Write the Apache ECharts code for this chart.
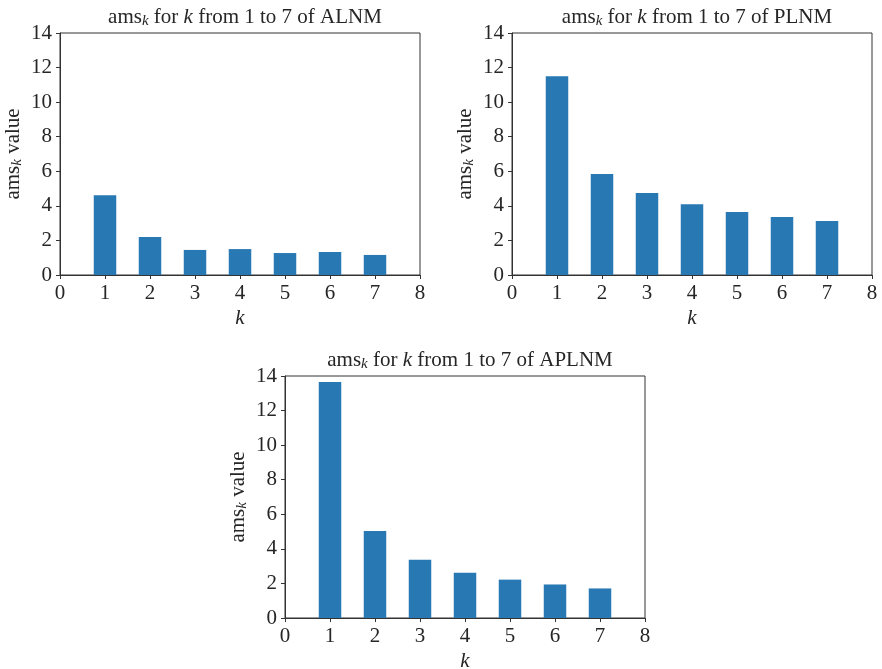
<!DOCTYPE html>
<html>
<head>
<meta charset="utf-8">
<script src="https://cdn.jsdelivr.net/npm/echarts@6/dist/echarts.min.js"></script>
<style>
  html, body { margin: 0; padding: 0; background: #fff; }
  #main { width: 882px; height: 669px; }
</style>
</head>
<body>
<div id="main"></div>
<script>
// k values and ams_k per model
const ks = [1, 2, 3, 4, 5, 6, 7];
const alnm = [4.62, 2.2, 1.45, 1.5, 1.27, 1.33, 1.16];
const plnm = [11.5, 5.84, 4.74, 4.1, 3.64, 3.35, 3.12];
const aplnm = [13.65, 5.04, 3.37, 2.62, 2.22, 1.94, 1.71];
const names = ['ALNM', 'PLNM', 'APLNM'];
const seriesData = [alnm, plnm, aplnm];

const font = '"Liberation Serif", "DejaVu Serif", serif';
const textColor = '#262626';
const barColor = '#2878b4';

// plot areas in px
const grids = [
    {left: 60, top: 33, width: 360, height: 242},
    {left: 512, top: 33, width: 360, height: 242},
    {left: 285, top: 376, width: 360, height: 242}
];

function makeRich(size) {
    return {
        r: {fontFamily: font, fontSize: size, fontWeight: 'normal', color: textColor},
        i: {fontFamily: font, fontSize: size, fontWeight: 'normal', fontStyle: 'italic', color: textColor},
        s: {fontFamily: font, fontSize: Math.round(size * 0.7), fontWeight: 'normal', fontStyle: 'italic', color: textColor,
            verticalAlign: 'bottom', padding: [Math.round(size * 0.45), 0, 0, 0]}
    };
}

let chart = echarts.init(document.getElementById('main'));

chart.setOption({
    animation: false,
    title: grids.map((g, i) => ({
        text: '{r|ams}{s|k}{r| for }{i|k}{r| from 1 to 7 of ' + names[i] + '}',
        left: g.left + g.width / 2,
        top: g.top - 33,
        textAlign: 'center',
        textStyle: {fontWeight: 'normal', rich: makeRich(21)}
    })),
    grid: grids.map(g => ({
        left: g.left, top: g.top, width: g.width, height: g.height,
        containLabel: false, outerBoundsMode: 'none',
        show: true, borderColor: '#333', borderWidth: 1, backgroundColor: 'transparent'
    })),
    xAxis: grids.map((g, i) => ({
        type: 'value',
        gridIndex: i,
        min: 0, max: 8, interval: 1,
        name: '{i|k}',
        nameLocation: 'middle',
        nameGap: 33,
        nameTextStyle: {rich: makeRich(21)},
        splitLine: {show: false},
        axisLine: {show: true, onZero: false, lineStyle: {color: '#333'}},
        axisTick: {show: true, length: 4, lineStyle: {color: '#333'}},
        axisLabel: {fontFamily: font, fontSize: 21, color: textColor, margin: 8}
    })),
    yAxis: grids.map((g, i) => ({
        type: 'value',
        gridIndex: i,
        min: 0, max: 14, interval: 2,
        name: '{r|ams}{s|k}{r| value}',
        nameLocation: 'middle',
        nameGap: 35,
        nameTextStyle: {rich: makeRich(21)},
        splitLine: {show: false},
        axisLine: {show: true, lineStyle: {color: '#333'}},
        axisTick: {show: true, length: 4, lineStyle: {color: '#333'}},
        axisLabel: {fontFamily: font, fontSize: 21, color: textColor, margin: 8}
    })),
    series: seriesData.map((vals, i) => ({
        type: 'bar',
        xAxisIndex: i,
        yAxisIndex: i,
        barWidth: 22.5,
        itemStyle: {color: barColor},
        data: ks.map((k, j) => [k, vals[j]])
    }))
});
</script>
</body>
</html>
